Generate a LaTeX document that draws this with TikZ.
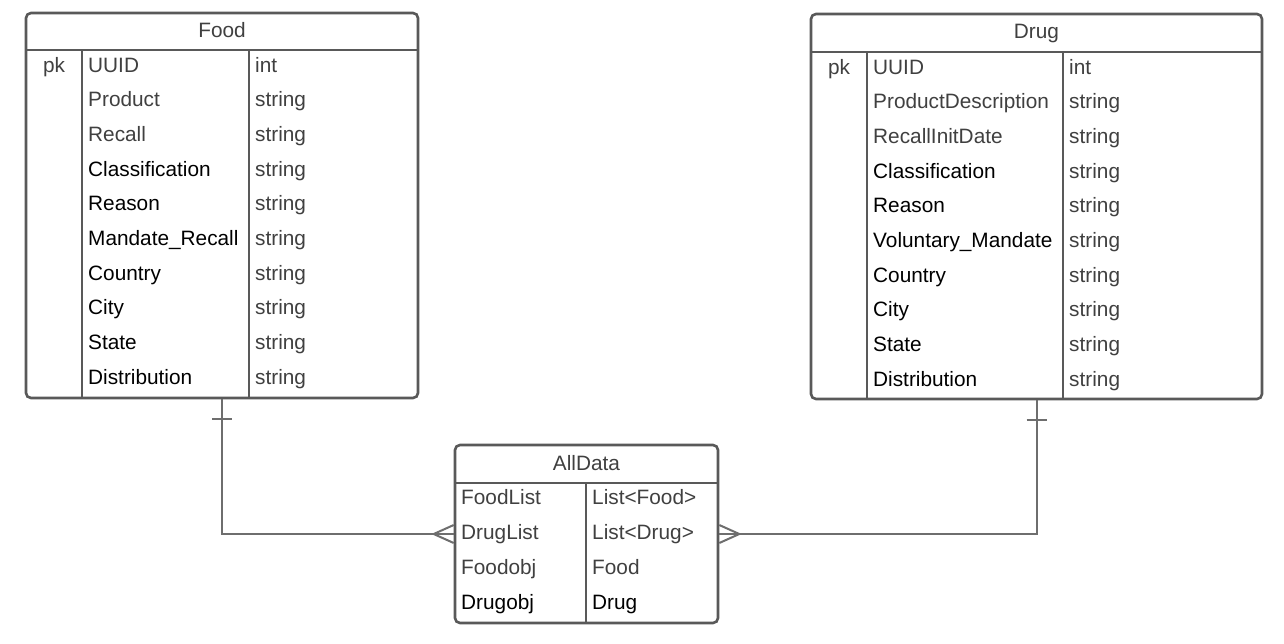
\documentclass[tikz,border=0pt]{standalone}
\usepackage{fontspec}
\setmainfont{Liberation Sans}
\usetikzlibrary{calc}
\definecolor{bordc}{HTML}{595959}
\definecolor{linec}{HTML}{6E6E6E}
\definecolor{greyt}{HTML}{404040}
\tikzset{
  tbl/.style={draw=bordc, line width=2.6pt, rounded corners=5pt, fill=white, inner sep=0pt},
  divl/.style={draw=bordc, line width=2.4pt},
  conn/.style={draw=linec, line width=2pt},
  txt/.style={anchor=base west, inner sep=0pt, font=\fontsize{20.8}{24}\selectfont},
  gtxt/.style={txt, text=greyt},
  btxt/.style={txt, text=black},
  ttl/.style={anchor=base, inner sep=0pt, text=greyt, font=\fontsize{20.8}{24}\selectfont},
}
\begin{document}
\begin{tikzpicture}[x=1pt,y=-1pt]
\useasboundingbox[fill=white] (0,0) rectangle (1284,643);
% tables
\node[tbl, minimum width=392pt, minimum height=385pt] (food) at (222,205.5) {};
\node[tbl, minimum width=451pt, minimum height=385pt] (drug) at (1036.5,206.5) {};
\node[tbl, minimum width=263pt, minimum height=178pt] (alldata) at (586.5,534) {};
% dividers
\draw[divl] (26,50) -- (418,50);
\draw[divl] (82,50) -- (82,398);
\draw[divl] (249,50) -- (249,398);
\draw[divl] (811,52) -- (1262,52);
\draw[divl] (867,52) -- (867,399);
\draw[divl] (1063,52) -- (1063,399);
\draw[divl] (455,483) -- (718,483);
\draw[divl] (586,483) -- (586,623);
% titles
\node[ttl] (foodt) at (222,37) {Food};
\node[ttl] (drugt) at (1036.5,38) {Drug};
\node[ttl] (allt) at (586.5,470) {AllData};
% Food rows
\node[ttl, anchor=base] (fpk) at (54,72) {pk};
\foreach \i/\n/\t/\s in {0/UUID/int/gtxt,1/Product/string/gtxt,2/Recall/string/gtxt,3/Classification/string/btxt,4/Reason/string/btxt,5/Mandate\_Recall/string/btxt,6/Country/string/btxt,7/City/string/btxt,8/State/string/btxt,9/Distribution/string/btxt}{
  \node[\s] (fn\i) at (88,{72+34.7*\i}) {\n};
  \node[gtxt] (ft\i) at (255,{72+34.7*\i}) {\t};
}
% Drug rows
\node[ttl, anchor=base] (dpk) at (839,74) {pk};
\foreach \i/\n/\t/\s in {0/UUID/int/gtxt,1/ProductDescription/string/gtxt,2/RecallInitDate/string/gtxt,3/Classification/string/btxt,4/Reason/string/btxt,5/Voluntary\_Mandate/string/btxt,6/Country/string/btxt,7/City/string/btxt,8/State/string/btxt,9/Distribution/string/btxt}{
  \node[\s] (dn\i) at (873,{74+34.7*\i}) {\n};
  \node[gtxt] (dt\i) at (1069,{74+34.7*\i}) {\t};
}
% AllData rows
\foreach \i/\n/\t/\s in {0/FoodList/List<Food>/gtxt,1/DrugList/List<Drug>/gtxt,2/Foodobj/Food/gtxt,3/Drugobj/Drug/btxt}{
  \node[\s] (an\i) at (461,{504+35*\i}) {\n};
  \node[\s] (at\i) at (592,{504+35*\i}) {\t};
}
% connectors
\draw[conn] (food.south) |- (alldata.west);
\draw[conn] ($(food.south)+(-10,20)$) -- ($(food.south)+(10,20)$);
\draw[conn] ($(alldata.west)+(-20,0)$) -- ($(alldata.west)+(0,-9)$);
\draw[conn] ($(alldata.west)+(-20,0)$) -- ($(alldata.west)+(0,9)$);
\draw[conn] (drug.south) |- (alldata.east);
\draw[conn] ($(drug.south)+(-10,20)$) -- ($(drug.south)+(10,20)$);
\draw[conn] ($(alldata.east)+(20,0)$) -- ($(alldata.east)+(0,-9)$);
\draw[conn] ($(alldata.east)+(20,0)$) -- ($(alldata.east)+(0,9)$);
\end{tikzpicture}
\end{document}
